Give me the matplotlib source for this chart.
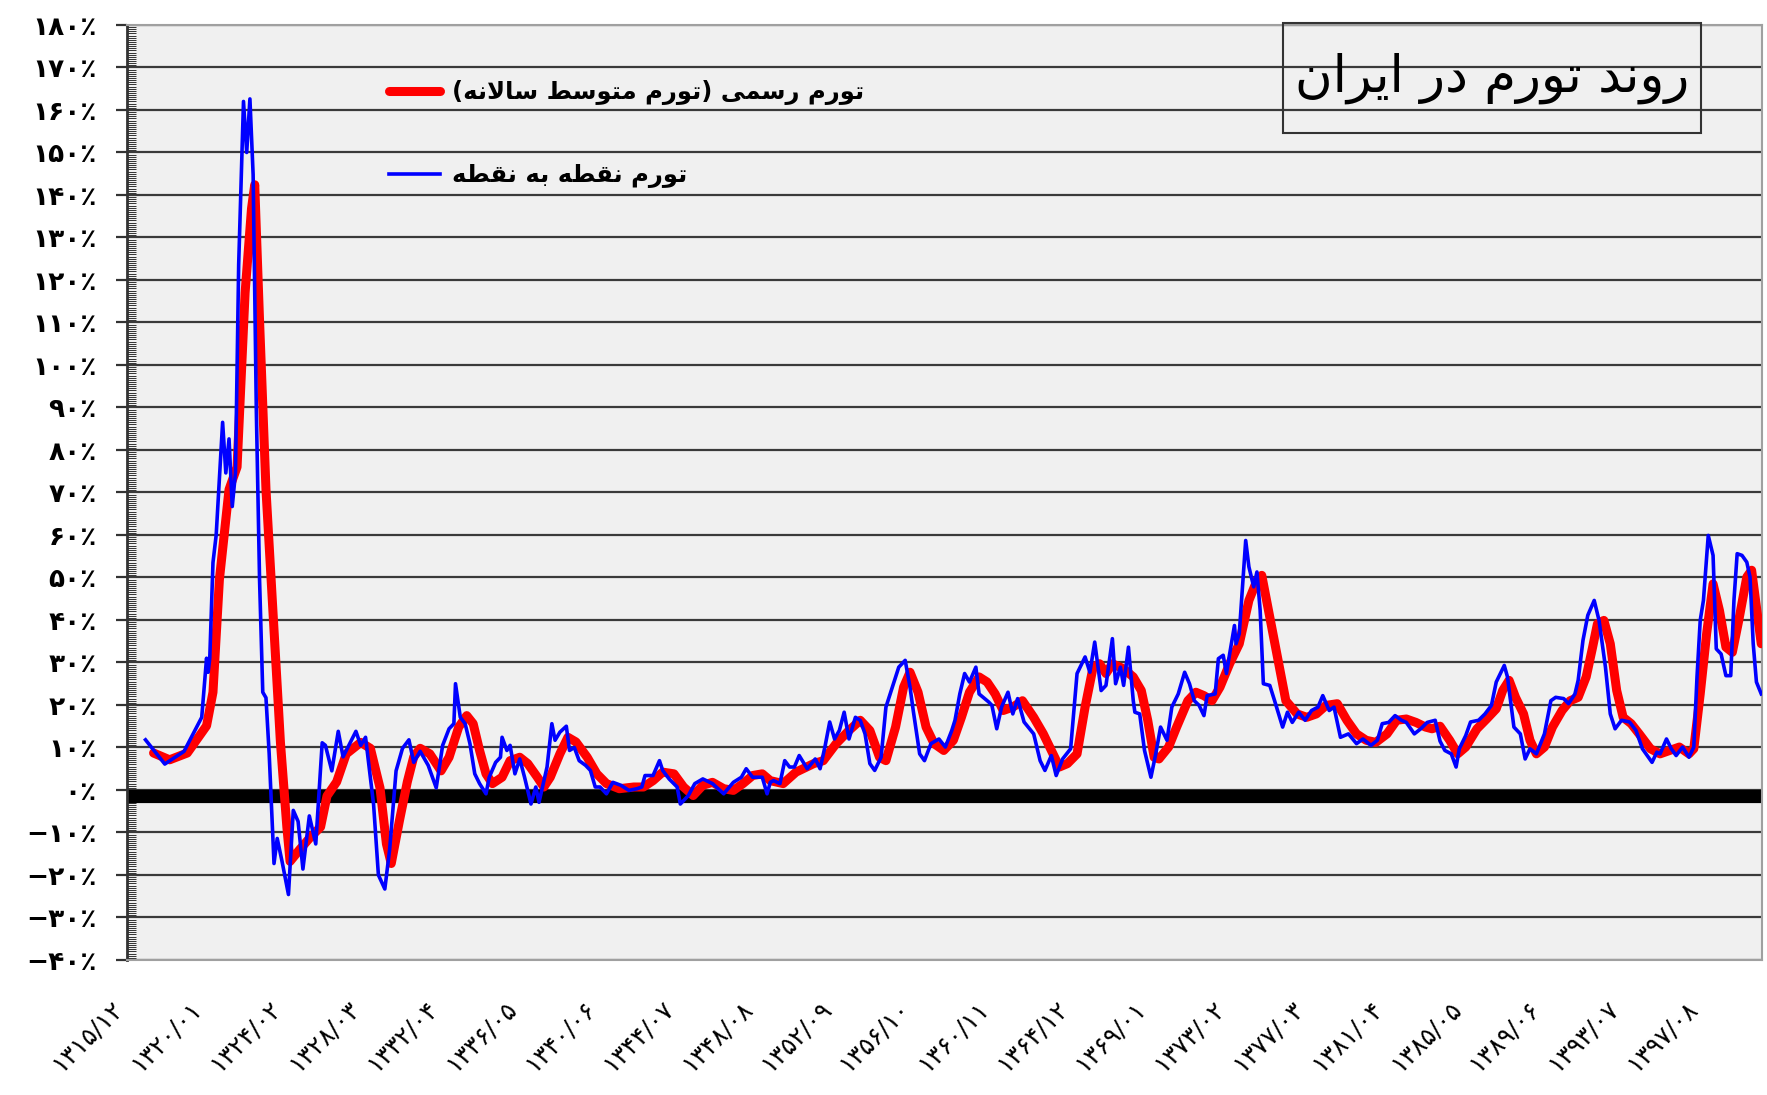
import matplotlib
matplotlib.use("Agg")
import matplotlib.pyplot as plt
from matplotlib.patches import Rectangle
from matplotlib.ticker import MultipleLocator
from matplotlib.transforms import ScaledTranslation

# ---------------------------------------------------------------------------
# Data: month index counted from 1315/12 (index 0), inflation in percent
# ---------------------------------------------------------------------------
point_months = [
    11, 23, 35, 46, 49, 50, 51, 53, 55, 59, 61, 63, 65, 67, 69, 72, 74, 76, 78, 80,
    82, 84, 86, 88, 91, 93, 96, 100, 103, 106, 109, 113, 117, 121, 123, 127, 131, 134, 142, 145,
    148, 153, 156, 160, 163, 167, 171, 175, 178, 182, 187, 192, 196, 200, 203, 204, 207, 210, 213, 216,
    219, 223, 225, 229, 232, 233, 236, 238, 241, 244, 247, 251, 254, 256, 261, 264, 266, 269, 273, 275,
    278, 281, 285, 288, 291, 294, 298, 302, 307, 312, 317, 320, 322, 327, 331, 333, 337, 342, 344, 349,
    353, 358, 364, 371, 377, 382, 385, 389, 395, 398, 400, 402, 406, 409, 412, 415, 418, 423, 428, 431,
    434, 437, 440, 443, 446, 449, 453, 456, 459, 462, 465, 469, 472, 476, 480, 484, 487, 489, 493, 496,
    500, 505, 509, 513, 515, 518, 521, 524, 528, 530, 536, 538, 541, 544, 548, 551, 554, 558, 564, 568,
    571, 575, 578, 582, 587, 591, 596, 599, 602, 606, 609, 613, 615, 618, 620, 623, 626, 627, 630, 633,
    637, 640, 643, 647, 650, 654, 658, 661, 664, 667, 670, 672, 677, 679, 682, 684, 686, 689, 690, 692,
    696, 698, 701, 703, 705, 707, 711, 714, 719, 722, 725, 729, 733, 737, 741, 744, 748, 751, 755, 760,
    765, 769, 774, 778, 781, 785, 789, 793, 796, 801, 805, 809, 814, 817, 820, 824, 827, 829, 833, 836,
    841, 845, 849, 852, 857, 859, 863, 867, 870, 873, 877, 882, 886, 889, 894, 897, 901, 903, 906, 909,
    913, 916, 920, 923, 926, 930, 935, 939, 943, 949, 952, 954, 958, 961, 964, 968, 972, 975, 977, 979,
    981, 984, 987, 989, 992, 995, 998, 1000, 1002, 1005, 1008, 1010, 1012, 1014, 1017,
]
point_values = [
    11.8, 6.1, 9.1, 17.1, 31, 27.7, 31, 53.5, 60, 86.5, 74.6, 82.6, 66.7, 74.6, 123.6, 162, 150, 162.6, 144.8, 89.2,
    49.5, 23, 21.7, 8.5, -17.3, -11.4, -16.8, -24.6, -4.8, -7.4, -18.6, -6.1, -12.7, 11.1, 10.5, 4.5, 13.8, 7.8, 13.8, 10.5,
    12.4, -3.4, -20, -23.3, -14, 4.5, 9.8, 11.8, 6.5, 9.1, 5.8, 0.5, 10.5, 14.4, 15.6, 25, 17.1, 15.6, 10.9, 3.8,
    1.5, -0.9, 3, 6.5, 7.7, 12.4, 9.3, 10.5, 3.8, 7.3, 3, -3.3, 0.7, -2.9, 5.4, 15.6, 11.7, 13.6, 15, 9.3,
    10, 6.9, 5.8, 4.6, 0.7, 0.7, -0.9, 1.8, 1.1, -0.1, 0.3, 0.7, 3.4, 3.4, 6.9, 4.6, 2.6, 0.7, -3.3, -1.3,
    1.5, 2.6, 1.5, -0.9, 1.8, 3, 5, 3, 3, -0.9, 1.8, 2.2, 1.5, 6.9, 5.4, 5.4, 8.1, 5, 7.3, 5,
    10.1, 16, 12, 14, 18.3, 12, 17.1, 16.4, 13.2, 6.2, 4.6, 7.7, 19.5, 24.2, 28.9, 30.5, 24.2, 18.7, 8.5, 6.9,
    10.9, 12, 10.1, 14, 16.4, 22.6, 27.4, 25.4, 28.9, 22.6, 20.7, 19.9, 14.4, 19.5, 23, 17.9, 21.5, 16, 13.2, 6.9,
    4.6, 8.1, 3.4, 7.3, 9.7, 27.4, 31.3, 27.7, 34.8, 23.4, 24.6, 35.6, 25, 28.9, 24.6, 33.6, 21, 18.3, 17.9, 9.3,
    3, 8.5, 14.8, 11.7, 19.5, 22.6, 27.7, 25, 21, 19.9, 17.5, 22.2, 22.6, 30.9, 31.7, 27.4, 32, 38.7, 34.4, 36.8,
    58.7, 52.5, 47.8, 51.3, 42.3, 25, 24.6, 21, 14.8, 18.3, 15.9, 18.3, 16.4, 18.7, 19.5, 22.2, 18.7, 19.5, 12.4, 13.2,
    10.9, 12, 10.5, 11.7, 15.6, 15.9, 17.5, 16.4, 15.9, 13.2, 14.4, 15.9, 16.4, 11.5, 9.3, 8.5, 5.4, 9.7, 12.8, 16,
    16.4, 17.9, 19.9, 25.4, 29.3, 26.6, 14.8, 13.2, 7.3, 9.7, 8.5, 13.2, 21, 21.8, 21.5, 20.3, 22.6, 25.8, 35.2, 41.1,
    44.6, 39.9, 28.9, 17.9, 14.4, 16.4, 16, 14, 9.7, 6.5, 8.9, 8.5, 12, 9.7, 8.1, 10.1, 7.7, 10.1, 26.6, 39.9,
    44.6, 59.9, 55.2, 33.2, 32, 26.9, 26.9, 44.6, 55.6, 55.2, 53.6, 50.1, 34.4, 25.4, 22.6,
]

official_months = [
    16, 26, 37, 49, 53, 57, 63, 68, 73, 77, 79, 82, 86, 91, 95, 99, 101, 107, 113, 120,
    124, 130, 136, 145, 151, 157, 161, 164, 169, 174, 178, 182, 188, 195, 200, 206, 211, 215, 219, 223,
    227, 233, 238, 244, 249, 255, 259, 263, 269, 274, 279, 286, 292, 298, 306, 315, 321, 327, 333, 340,
    346, 352, 358, 364, 371, 377, 383, 389, 395, 400, 408, 416, 427, 433, 441, 449, 456, 462, 468, 472,
    478, 483, 487, 492, 497, 502, 508, 514, 519, 524, 530, 535, 540, 545, 551, 557, 564, 570, 576, 580,
    585, 591, 596, 601, 605, 609, 613, 620, 626, 631, 635, 639, 642, 648, 653, 660, 665, 670, 675, 680,
    686, 692, 698, 703, 706, 709, 713, 717, 721, 728, 734, 740, 746, 753, 759, 765, 771, 777, 784, 790,
    796, 802, 808, 812, 817, 823, 828, 833, 840, 846, 852, 856, 860, 864, 869, 873, 877, 882, 887, 893,
    898, 903, 908, 912, 915, 919, 923, 927, 931, 936, 941, 948, 954, 960, 966, 972, 975, 979, 983, 987,
    991, 995, 999, 1003, 1008, 1011, 1014, 1017,
]
official_values = [
    8.7, 7.1, 8.7, 15.1, 23, 49.5, 70.7, 76, 117, 136.8, 142.4, 110.4, 70.7, 37.6, 11.2, -8.7, -16.8, -14, -11.4, -8.7,
    -1.4, 1.9, 8.5, 11.2, 9.8, 0.5, -12.7, -17.3, -7.4, 1.9, 7.8, 9.8, 8.5, 4.5, 7.7, 14.8, 17.5, 15.6, 9.3, 3.8,
    1.5, 3, 6.9, 7.7, 6.2, 3, 0.7, 3, 8.5, 12.4, 11.3, 7.7, 3.8, 1.5, 0.3, 0.7, 0.7, 2.2, 4.2, 3.8,
    0.7, -1.3, 1.1, 1.8, 0.3, -0.1, 1.5, 3.4, 3.8, 2.2, 1.5, 4.2, 6.2, 6.9, 10.9, 14, 16.4, 14, 7.7, 6.9,
    14.8, 24.2, 27.7, 23, 14.8, 10.9, 9.3, 11.7, 17.1, 23, 26.6, 25.4, 22.6, 18.7, 19.5, 21, 17.1, 13.2, 8.5, 5.4,
    6.2, 8.5, 19.5, 28.9, 29.7, 27.4, 29.7, 28.5, 26.6, 23.4, 16.4, 7.7, 7.3, 10.1, 14.8, 21, 23, 22.2, 21, 24.2,
    29.7, 34.4, 44.6, 49.3, 50.5, 44.6, 36.8, 28.9, 21, 17.9, 17.1, 17.9, 19.9, 20.3, 16.4, 13.2, 11.7, 11.2, 13.2, 16.4,
    16.7, 15.9, 14.8, 14.4, 15, 11.7, 8.5, 10.1, 14.4, 16.7, 19.1, 23.4, 25.8, 21.8, 17.9, 11.7, 8.5, 10.1, 14.8, 18.7,
    21, 21.8, 26.6, 33.6, 39.1, 39.9, 34.4, 23.4, 17.1, 15.6, 13.2, 9.7, 8.5, 9.3, 10.1, 8.5, 9.7, 22.6, 36.8, 48.5,
    42.2, 33.6, 32.4, 39.9, 50.1, 51.7, 43, 34.4,
]

n_months = 1018
x_tick_months = list(range(0, 981, 49))
x_labels = [
    "۱۳۱۵/۱۲", "۱۳۲۰/۰۱", "۱۳۲۴/۰۲", "۱۳۲۸/۰۳", "۱۳۳۲/۰۴", "۱۳۳۶/۰۵", "۱۳۴۰/۰۶",
    "۱۳۴۴/۰۷", "۱۳۴۸/۰۸", "۱۳۵۲/۰۹", "۱۳۵۶/۱۰", "۱۳۶۰/۱۱", "۱۳۶۴/۱۲", "۱۳۶۹/۰۱",
    "۱۳۷۳/۰۲", "۱۳۷۷/۰۳", "۱۳۸۱/۰۴", "۱۳۸۵/۰۵", "۱۳۸۹/۰۶", "۱۳۹۳/۰۷", "۱۳۹۷/۰۸",
]
y_ticks = list(range(180, -41, -10))
y_labels = [
    "۱۸۰٪", "۱۷۰٪", "۱۶۰٪", "۱۵۰٪", "۱۴۰٪", "۱۳۰٪", "۱۲۰٪", "۱۱۰٪", "۱۰۰٪", "۹۰٪",
    "۸۰٪", "۷۰٪", "۶۰٪", "۵۰٪", "۴۰٪", "۳۰٪", "۲۰٪", "۱۰٪", "۰٪",
    "−۱۰٪", "−۲۰٪", "−۳۰٪", "−۴۰٪",
]

title = "روند تورم در ایران"
label_official = "تورم رسمی (تورم متوسط سالانه)"
label_point = "تورم نقطه به نقطه"

# ---------------------------------------------------------------------------
# Minimal Persian shaping (matplotlib has no bidi / joining support)
# ---------------------------------------------------------------------------
FORMS = {  # isolated, final, initial, medial
    "ا": ("\ufe8d", "\ufe8e", None, None),
    "ب": ("\ufe8f", "\ufe90", "\ufe91", "\ufe92"),
    "ت": ("\ufe95", "\ufe96", "\ufe97", "\ufe98"),
    "د": ("\ufea9", "\ufeaa", None, None),
    "ر": ("\ufead", "\ufeae", None, None),
    "س": ("\ufeb1", "\ufeb2", "\ufeb3", "\ufeb4"),
    "ط": ("\ufec1", "\ufec2", "\ufec3", "\ufec4"),
    "ق": ("\ufed5", "\ufed6", "\ufed7", "\ufed8"),
    "ل": ("\ufedd", "\ufede", "\ufedf", "\ufee0"),
    "م": ("\ufee1", "\ufee2", "\ufee3", "\ufee4"),
    "ن": ("\ufee5", "\ufee6", "\ufee7", "\ufee8"),
    "ه": ("\ufee9", "\ufeea", "\ufeeb", "\ufeec"),
    "و": ("\ufeed", "\ufeee", None, None),
    "ی": ("\ufeef", "\ufef0", "\ufef3", "\ufef4"),
}
LAM_ALEF = ("\ufefb", "\ufefc", None, None)
MIRROR = {"(": ")", ")": "("}


def shape_fa(text):
    units = []
    i = 0
    while i < len(text):
        if text[i] == "ل" and text[i + 1:i + 2] == "ا":
            units.append(LAM_ALEF)
            i += 2
        else:
            units.append(FORMS.get(text[i], text[i]))
            i += 1
    out = []
    for k, u in enumerate(units):
        if isinstance(u, str):
            out.append(MIRROR.get(u, u))
            continue
        prev = units[k - 1] if k > 0 else None
        nxt = units[k + 1] if k + 1 < len(units) else None
        join_prev = isinstance(prev, tuple) and prev[2] is not None
        join_next = isinstance(nxt, tuple) and u[2] is not None
        if join_prev and join_next:
            out.append(u[3])
        elif join_prev:
            out.append(u[1])
        elif join_next:
            out.append(u[2])
        else:
            out.append(u[0])
    return "".join(reversed(out))


# ---------------------------------------------------------------------------
# Plot
# ---------------------------------------------------------------------------
plt.rcParams["font.family"] = ["DejaVu Sans"]

fig = plt.figure(figsize=(17.67, 10.95), dpi=100)
ax = fig.add_axes([0.0719, 0.1233, 0.9253, 0.8539])
ax.set_facecolor("#f0f0f0")

ax.set_xlim(-0.5, n_months - 0.5)
ax.set_ylim(-40, 180)

ax.set_yticks(y_ticks)
ax.set_yticklabels(y_labels, fontsize=19, fontweight="bold")
ax.yaxis.set_minor_locator(MultipleLocator(0.5))
ax.tick_params(axis="y", which="major", direction="out", length=8, width=1.6,
               color="#333333", pad=14)
ax.tick_params(axis="y", which="minor", direction="in", length=6.5, width=0.7,
               color="#333333")

ax.set_xticks(x_tick_months)
ax.set_xticklabels(x_labels, fontsize=18, rotation=45, ha="right", va="bottom",
                   rotation_mode="anchor")
ax.tick_params(axis="x", length=0, pad=38)

ax.set_axisbelow(True)
ax.grid(axis="y", which="major", color="#3a3a3a", linewidth=1.6)

# thick zero line (drawn a few pixels low, as in the original)
zero_shift = ax.get_yaxis_transform() + ScaledTranslation(0, -4.5 / 72, fig.dpi_scale_trans)
ax.plot([0, 1], [0, 0], color="black", linewidth=9.5, transform=zero_shift,
        zorder=1.5, solid_capstyle="butt")

for side in ("top", "right", "bottom"):
    ax.spines[side].set_color("#a0a0a0")
    ax.spines[side].set_linewidth(1.5)
ax.spines["left"].set_color("#333333")
ax.spines["left"].set_linewidth(2)

line_official, = ax.plot(official_months, official_values, color="#ff0000",
                         linewidth=6.5, solid_joinstyle="round",
                         solid_capstyle="round", zorder=3)
line_point, = ax.plot(point_months, point_values, color="#0000ff",
                      linewidth=2.6, zorder=4)

leg = ax.legend([line_official, line_point],
                [shape_fa(label_official), shape_fa(label_point)],
                loc="upper left", bbox_to_anchor=(0.160, 0.941),
                frameon=False, borderpad=0, borderaxespad=0,
                handlelength=2.1, handletextpad=0.5, labelspacing=2.4,
                prop={"size": 17.5, "weight": "bold"})

# title box
fig.patches.append(Rectangle((1283 / 1767, 1 - 132.7 / 1095), 418 / 1767, 110 / 1095,
                             transform=fig.transFigure, fill=False,
                             edgecolor="#333333", linewidth=1.5, zorder=5))
fig.text(1492 / 1767, 1 - 78 / 1095, shape_fa(title), ha="center", va="center",
         fontsize=37, color="black")

fig.savefig("out.png", dpi=100, facecolor="white")
plt.close(fig)
